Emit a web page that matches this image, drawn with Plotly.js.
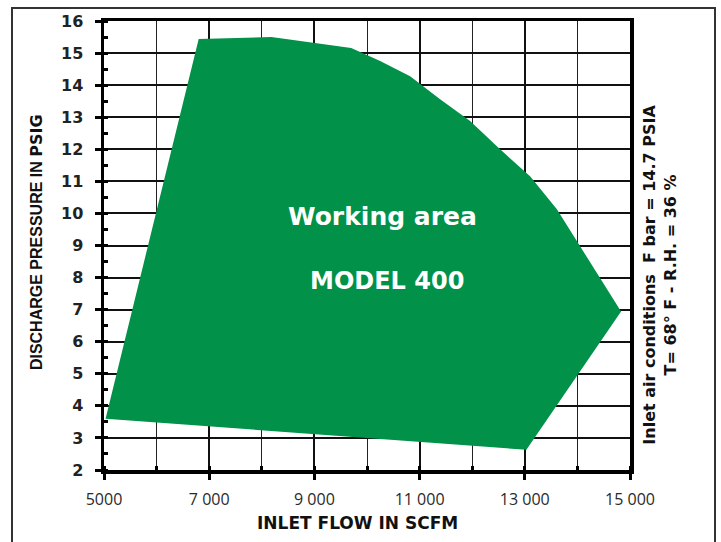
<!DOCTYPE html>
<html>
<head>
<meta charset="utf-8">
<script src="https://cdn.plot.ly/plotly-3.0.1.min.js"></script>
<style>
  html, body { margin: 0; padding: 0; background: #ffffff; }
  #chart { width: 721px; height: 542px; }
</style>
</head>
<body>
<div id="chart"></div>
<script>
// Working-area boundary of MODEL 400 (inlet flow in SCFM, discharge pressure in PSIG)
const flowScfm = [5030, 6800, 8180, 9700, 10250, 10820, 11390, 11960, 12530, 13100, 13610, 14110, 14620, 14830, 13030, 5030];
const pressurePsig = [3.6, 15.44, 15.5, 15.16, 14.75, 14.28, 13.56, 12.88, 12.0, 11.16, 10.13, 8.84, 7.52, 6.94, 2.63, 3.6];

const xTickValues = [5000, 7000, 9000, 11000, 13000, 15000];
const xTickLabels = ["5000", "7 000", "9 000", "11 000", "13 000", "15 000"];
const yTickValues = [2, 3, 4, 5, 6, 7, 8, 9, 10, 11, 12, 13, 14, 15, 16];
const yTickLabels = ["2", "3", "4", "5", "6", "7", "8", "9", "10", "11", "12", "13", "14", "15", "16"];

const areaTitle = "Working area";
const modelTitle = "MODEL 400";
const xTitle = "INLET FLOW IN SCFM";
const yTitle = "DISCHARGE PRESSURE IN <span style=\"font-family:DejaVu Sans\">PSIG</span>";
const conditionsText = "Inlet air conditions&nbsp;&nbsp;F bar = 14.7 PSIA<br>T= 68° F - R.H. = 36 %";

const green = "#019148";
const boldFont = "DejaVu Sans, Liberation Sans, sans-serif";

const trace = {
  type: "scatter",
  mode: "lines",
  x: flowScfm,
  y: pressurePsig,
  fill: "toself",
  fillcolor: green,
  line: { width: 0, color: green },
  hoverinfo: "skip",
  showlegend: false
};

const layout = {
  width: 721,
  height: 542,
  margin: { l: 104, r: 91, t: 21, b: 72 },
  paper_bgcolor: "#ffffff",
  plot_bgcolor: "#ffffff",
  showlegend: false,
  xaxis: {
    range: [5000, 15000],
    tickmode: "array",
    tickvals: xTickValues,
    ticktext: xTickLabels,
    ticks: "outside",
    ticklen: 6,
    tickwidth: 3,
    tickcolor: "#000",
    ticklabelstandoff: 6,
    tickfont: { family: "Open Sans, Liberation Sans, sans-serif", size: 16, color: "#2a2a2a" },
    showgrid: true,
    gridcolor: "#111",
    gridwidth: 2,
    minor: {
      tickmode: "linear",
      tick0: 5000,
      dtick: 1000,
      showgrid: true,
      gridcolor: "#222",
      gridwidth: 1,
      ticks: "inside",
      ticklen: 4,
      tickwidth: 3,
      tickcolor: "#000"
    },
    showline: true,
    linecolor: "#000",
    linewidth: 3.5,
    mirror: true,
    zeroline: false,
    fixedrange: true
  },
  yaxis: {
    range: [2, 16],
    tickmode: "array",
    tickvals: yTickValues,
    ticktext: yTickLabels.map(function (t) { return "<b>" + t + "</b>"; }),
    ticks: "outside",
    ticklen: 6,
    tickwidth: 3,
    tickcolor: "#000",
    ticklabelstandoff: 8,
    tickfont: { family: boldFont, size: 16, color: "#222" },
    showgrid: true,
    gridcolor: "#111",
    gridwidth: 2,
    minor: {
      tickmode: "linear",
      tick0: 2,
      dtick: 0.5,
      showgrid: false,
      ticks: "inside",
      ticklen: 4,
      tickwidth: 3,
      tickcolor: "#000"
    },
    showline: true,
    linecolor: "#000",
    linewidth: 3.5,
    mirror: true,
    zeroline: false,
    fixedrange: true
  },
  shapes: [
    {
      type: "rect", xref: "paper", yref: "paper",
      x0: -0.1749, x1: 1.1616, y0: -0.25, y1: 1.029,
      line: { color: "#333", width: 2 },
      fillcolor: "rgba(0,0,0,0)",
      layer: "below"
    }
  ],
  annotations: [
    {
      text: "<b>" + areaTitle + "</b>", xref: "paper", yref: "paper", x: 0.530, y: 0.5635,
      showarrow: false, xanchor: "center", yanchor: "middle",
      font: { family: boldFont, size: 25, color: "#ffffff" }
    },
    {
      text: "<b>" + modelTitle + "</b>", xref: "paper", yref: "paper", x: 0.538, y: 0.421,
      showarrow: false, xanchor: "center", yanchor: "middle",
      font: { family: boldFont, size: 24, color: "#ffffff" }
    },
    {
      text: "<b>" + xTitle + "</b>", xref: "paper", yref: "paper", x: 0.481, y: -0.118,
      showarrow: false, xanchor: "center", yanchor: "middle",
      font: { family: boldFont, size: 17, color: "#111" }
    },
    {
      text: "<b>" + yTitle + "</b>", xref: "paper", yref: "paper", x: -0.127, y: 0.508,
      showarrow: false, xanchor: "center", yanchor: "middle", textangle: -90,
      font: { family: "Liberation Sans, sans-serif", size: 16, color: "#111" }
    },
    {
      text: "<b>" + conditionsText + "</b>", xref: "paper", yref: "paper", x: 1.058, y: 0.434,
      showarrow: false, xanchor: "center", yanchor: "middle", textangle: -90, align: "center",
      font: { family: boldFont, size: 16, color: "#111" }
    }
  ]
};

Plotly.newPlot("chart", [trace], layout, { staticPlot: true, displayModeBar: false });
</script>
</body>
</html>
